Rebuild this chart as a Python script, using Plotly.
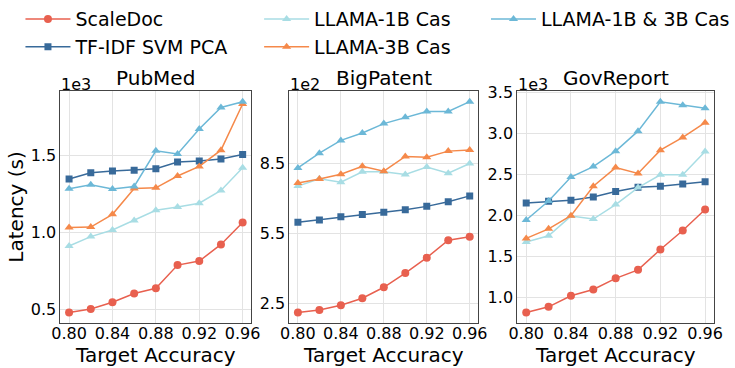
import plotly.graph_objects as go

W, H = 735, 368

acc = [0.80, 0.82, 0.84, 0.86, 0.88, 0.90, 0.92, 0.94, 0.96]
x_ticks = [0.80, 0.84, 0.88, 0.92, 0.96]
x_ticklabels = ["0.80", "0.84", "0.88", "0.92", "0.96"]

series_names = ["ScaleDoc", "TF-IDF SVM PCA", "LLAMA-1B Cas", "LLAMA-3B Cas", "LLAMA-1B & 3B Cas"]

# PubMed (values in seconds)
pubmed_scaledoc = [479, 502, 545, 602, 636, 787, 813, 921, 1064]
pubmed_tfidf = [1347, 1387, 1398, 1404, 1413, 1457, 1464, 1477, 1506]
pubmed_l1b = [911, 972, 1015, 1077, 1143, 1164, 1189, 1272, 1419]
pubmed_l3b = [1032, 1034, 1117, 1285, 1289, 1366, 1428, 1534, 1834]
pubmed_l13b = [1283, 1309, 1281, 1298, 1530, 1509, 1672, 1811, 1849]

# BigPatent
bigpatent_scaledoc = [212, 223, 243, 273, 320, 381, 447, 522, 537]
bigpatent_tfidf = [599, 609, 622, 632, 642, 653, 667, 687, 712]
bigpatent_l1b = [754, 785, 771, 815, 816, 804, 836, 809, 851]
bigpatent_l3b = [767, 784, 805, 839, 818, 881, 878, 904, 909]
bigpatent_l13b = [832, 895, 950, 982, 1022, 1049, 1074, 1074, 1116]

# GovReport
gov_scaledoc = [811, 880, 1016, 1092, 1229, 1333, 1582, 1815, 2071]
gov_tfidf = [2152, 2172, 2184, 2224, 2292, 2344, 2356, 2384, 2413]
gov_l1b = [1674, 1750, 1991, 1955, 2132, 2340, 2497, 2497, 2782]
gov_l3b = [1718, 1835, 1995, 2356, 2585, 2513, 2798, 2954, 3135]
gov_l13b = [1943, 2176, 2469, 2597, 2786, 3031, 3392, 3347, 3311]

titles = ["PubMed", "BigPatent", "GovReport"]
scales = [1000, 100, 1000]
scale_labels = ["1e3", "1e2", "1e3"]
y_ticks = [[0.5, 1.0, 1.5], [2.5, 5.5, 8.5], [1.0, 1.5, 2.0, 2.5, 3.0, 3.5]]
y_ticklabels = [["0.5", "1.0", "1.5"], ["2.5", "5.5", "8.5"],
                ["1.0", "1.5", "2.0", "2.5", "3.0", "3.5"]]

datasets = [
    [pubmed_scaledoc, pubmed_tfidf, pubmed_l1b, pubmed_l3b, pubmed_l13b],
    [bigpatent_scaledoc, bigpatent_tfidf, bigpatent_l1b, bigpatent_l3b, bigpatent_l13b],
    [gov_scaledoc, gov_tfidf, gov_l1b, gov_l3b, gov_l13b],
]

colors = ["#e8604f", "#386a9a", "#a8dde4", "#f5894a", "#6cb8d7"]
symbols = ["circle", "square", "triangle-up", "triangle-up", "triangle-up"]
legend_ids = ["legend", "legend", "legend2", "legend2", "legend3"]

FONT = "DejaVu Sans"

# pixel layout of plot areas
px_left = [62, 297, 531]
px_right = [258, 491, 733]
px_top, px_bottom = 85, 322

def fx(p):
    return p / W

def fy(p):
    return 1 - p / H

fig = go.Figure()

for i, data in enumerate(datasets):
    ax = "" if i == 0 else str(i + 1)
    for j, vals in enumerate(data):
        fig.add_trace(go.Scatter(
            x=acc, y=[v / scales[i] for v in vals],
            mode="lines+markers",
            name=series_names[j],
            legendgroup=series_names[j],
            line=dict(color=colors[j], width=1.5),
            marker=dict(color=colors[j], symbol=symbols[j], size=8 if j != 1 else 7),
            xaxis="x" + ax, yaxis="y" + ax,
            showlegend=(i == 0),
            legend=legend_ids[j],
        ))

layout = dict(
    width=W, height=H,
    margin=dict(l=0, r=0, t=0, b=0),
    plot_bgcolor="white", paper_bgcolor="white",
    font=dict(family=FONT, size=16, color="black"),
    annotations=[],
)

for i, data in enumerate(datasets):
    ax = "" if i == 0 else str(i + 1)
    allv = [v / scales[i] for s in data for v in s]
    lo, hi = min(allv), max(allv)
    pad = (hi - lo) * 0.05
    common = dict(
        showgrid=True, gridcolor="#e3e3e3", gridwidth=1,
        showline=True, mirror=True, linecolor="#444", linewidth=1,
        ticks="",
        tickfont=dict(size=16, family=FONT),
        zeroline=False, automargin=False,
    )
    layout["xaxis" + ax] = dict(
        common,
        domain=[fx(px_left[i]), fx(px_right[i])],
        anchor="y" + ax,
        range=[0.792, 0.968],
        tickvals=x_ticks, ticktext=x_ticklabels,
        ticklabelstandoff=-4,
    )
    layout["yaxis" + ax] = dict(
        common,
        domain=[fy(px_bottom), fy(px_top)],
        anchor="x" + ax,
        range=[lo - pad, hi + pad],
        tickvals=y_ticks[i], ticktext=y_ticklabels[i],
    )
    cx = (px_left[i] + px_right[i]) / 2
    layout["annotations"].append(dict(
        text=titles[i], x=fx(cx), y=fy(72), xref="paper", yref="paper",
        xanchor="center", yanchor="middle", showarrow=False,
        font=dict(size=20, family=FONT)))
    layout["annotations"].append(dict(
        text=scale_labels[i], x=fx(px_left[i] - 1), y=fy(78), xref="paper", yref="paper",
        xanchor="left", yanchor="middle", showarrow=False,
        font=dict(size=16, family=FONT)))
    layout["annotations"].append(dict(
        text="Target Accuracy", x=fx(cx), y=fy(355), xref="paper", yref="paper",
        xanchor="center", yanchor="middle", showarrow=False,
        font=dict(size=20, family=FONT)))

layout["annotations"].append(dict(
    text="Latency (s)", x=fx(17), y=fy((px_top + px_bottom) / 2), xref="paper", yref="paper",
    xanchor="center", yanchor="middle", showarrow=False, textangle=-90,
    font=dict(size=20, family=FONT)))

leg_common = dict(orientation="v", bgcolor="rgba(0,0,0,0)", xanchor="left", yanchor="top",
                  y=fy(-8), font=dict(size=19, family=FONT), tracegroupgap=0,
                  itemwidth=45)
layout["legend"] = dict(leg_common, x=fx(21))
layout["legend2"] = dict(leg_common, x=fx(266))
layout["legend3"] = dict(leg_common, x=fx(499))

fig.update_layout(**layout)
fig.write_html(
    "out.html",
    config={"displayModeBar": False},
    post_script="document.body.style.margin='0';document.body.style.padding='0';document.body.style.overflow='hidden';",
)
